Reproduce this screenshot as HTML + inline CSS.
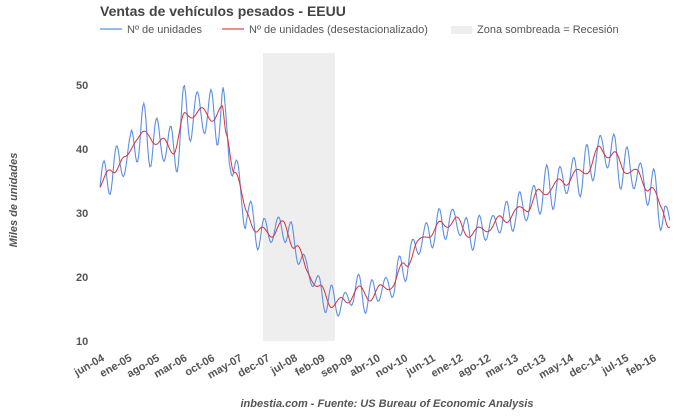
<!DOCTYPE html>
<html><head><meta charset="utf-8"><style>
body{margin:0;background:#fff;width:680px;height:415px;overflow:hidden;font-family:"Liberation Sans",sans-serif}
</style></head><body>
<svg id="s" width="680" height="415" xmlns="http://www.w3.org/2000/svg" font-family="Liberation Sans, sans-serif">
<text x="100" y="16" font-size="14" font-weight="bold" fill="#444">Ventas de vehículos pesados - EEUU</text>
<line x1="100" y1="29" x2="122" y2="29" stroke="#5b8ee6" stroke-width="1.3"/>
<text x="127" y="33" font-size="11" fill="#555">Nº de unidades</text>
<line x1="222" y1="29" x2="244" y2="29" stroke="#e04a4a" stroke-width="1.3"/>
<text x="249" y="33" font-size="11" fill="#555">Nº de unidades (desestacionalizado)</text>
<rect x="451" y="26" width="21" height="8" fill="#eee"/>
<text x="477" y="33" font-size="11" fill="#555">Zona sombreada = Recesión</text>
<rect x="263" y="53" width="72" height="288" fill="#eee"/>
<g font-size="11" font-weight="bold" fill="#555">
<text x="76" y="89">50</text><text x="76" y="153">40</text><text x="76" y="217">30</text><text x="76" y="281">20</text><text x="76" y="345">10</text>
</g>
<text transform="translate(17,200) rotate(-90)" font-size="11" font-weight="bold" font-style="italic" fill="#555" text-anchor="middle">Miles de unidades</text>
<g id="xl" font-size="11" font-weight="bold" fill="#555"></g>
<path id="b" fill="none" stroke="#5b8ee6" stroke-width="1.1"/>
<path id="r" fill="none" stroke="#d9323a" stroke-width="1"/>
<text x="387" y="407" font-size="11" font-weight="bold" font-style="italic" fill="#555" text-anchor="middle">inbestia.com - Fuente: US Bureau of Economic Analysis</text>
</svg>
<script>
var labs=["jun-04","ene-05","ago-05","mar-06","oct-06","may-07","dec-07","jul-08","feb-09","sep-09","abr-10","nov-10","jun-11","ene-12","ago-12","mar-13","oct-13","may-14","dec-14","jul-15","feb-16"];
var g=document.getElementById('xl'),h='';
labs.forEach(function(l,i){var x=105+i*27.6;h+='<text transform="translate('+x+',360) rotate(-30)" text-anchor="end">'+l+'</text>';});
g.innerHTML=h;
var k=[[0,34],[3,37],[6,38],[9,42],[12,42],[15,41],[18,40],[21,45],[24,46],[27,45],[30,46],[31,42],[33,37],[36,30],[39,27],[42,27],[45,28],[48,25],[51,21],[54,18],[57,16],[60,16],[63,18],[66,17],[69,18],[72,19],[75,22],[78,25],[81,27],[84,28],[87,29],[90,27],[93,27],[96,28],[99,29],[102,30],[105,31],[108,33],[111,34],[114,35],[117,36],[120,37],[123,40],[126,39],[129,37],[132,36],[135,34],[138,31],[140,28]];
function tr(m){for(var i=0;i<k.length-1;i++){if(m<=k[i+1][0]){var t=(m-k[i][0])/(k[i+1][0]-k[i][0]);t=(1-Math.cos(t*Math.PI))/2;return k[i][1]+t*(k[i+1][1]-k[i][1]);}}return k[k.length-1][1];}
function X(m){return 100+m*4.07}function Y(v){return 341-(v-10)*6.4}
var rp='',bp='';
for(var m=0;m<=140;m+=0.25){var v=tr(m);var a=(v>40?4:v>30?3:2.2)*(1+0.3*Math.sin(m*0.7));
var bv=v+a*Math.sin(m*2*Math.PI/3.3);
var rv=v+0.8*Math.sin(m*1.3);
rp+=(m?'L':'M')+X(m).toFixed(1)+' '+Y(rv).toFixed(1);
bp+=(m?'L':'M')+X(m).toFixed(1)+' '+Y(bv).toFixed(1);}
document.getElementById('r').setAttribute('d',rp);
document.getElementById('b').setAttribute('d',bp);
</script>
</body></html>
